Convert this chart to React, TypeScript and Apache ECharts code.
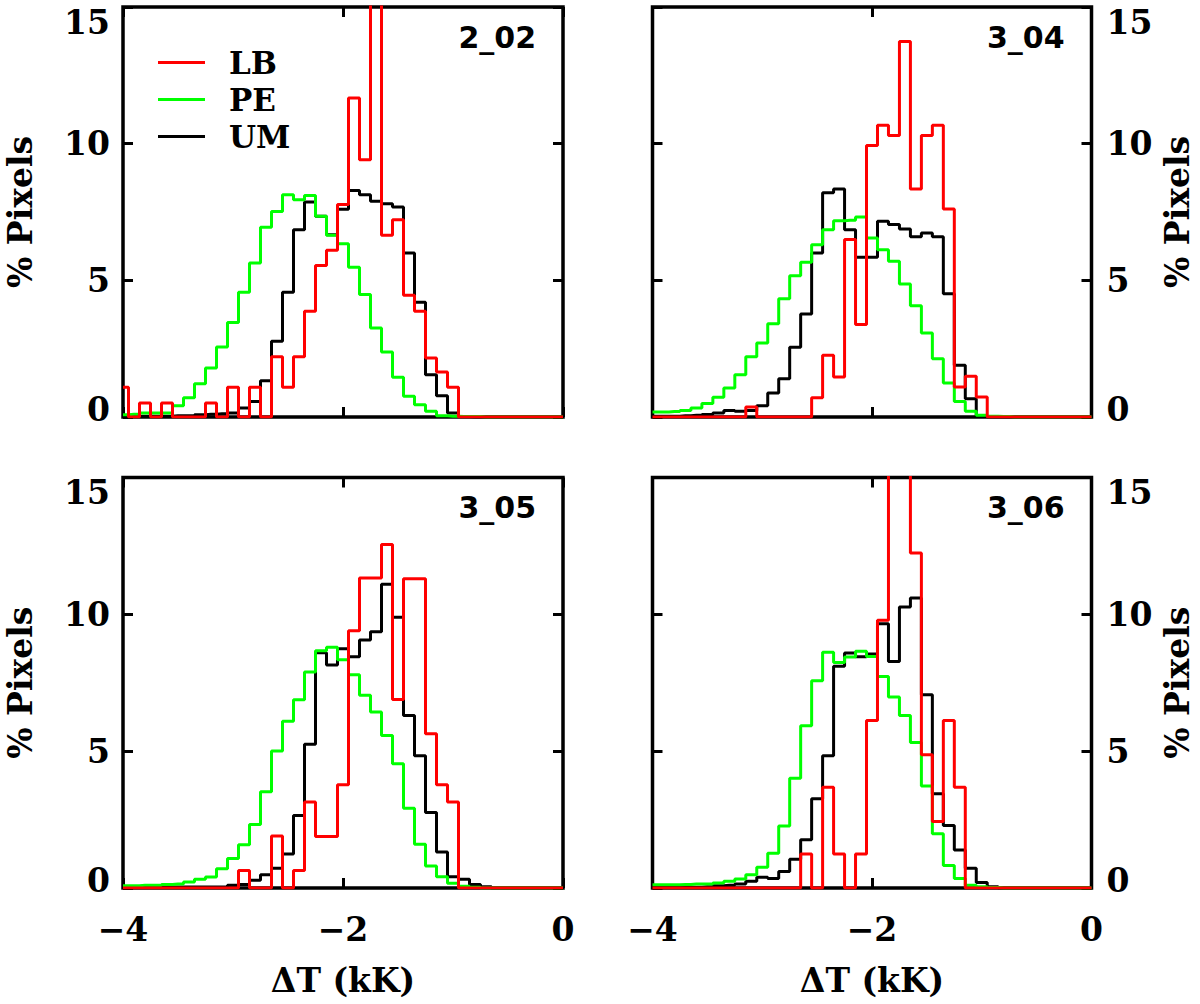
import { useEffect, useRef } from "react";
import * as echarts from "echarts";

// bin centres (kK), 0.1 kK wide bins
const BIN_CENTERS = [
  -4.0, -3.9, -3.8, -3.7, -3.6, -3.5, -3.4, -3.3, -3.2, -3.1, -3.0, -2.9, -2.8, -2.7,
  -2.6, -2.5, -2.4, -2.3, -2.2, -2.1, -2.0, -1.9, -1.8, -1.7, -1.6, -1.5, -1.4, -1.3,
  -1.2, -1.1, -1.0, -0.9, -0.8, -0.7, -0.6, -0.5, -0.4, -0.3, -0.2, -0.1, 0.0,
];

const X_TICKS = [-4, -2, 0];
const Y_TICKS = [0, 5, 10, 15];
const SERIES_NAMES = ["LB", "PE", "UM"];
const PANEL_LABELS = ["2_02", "3_04", "3_05", "3_06"];

// % pixels per bin
const LB_2_02 = [
  1.09, 0, 0.51, 0, 0.51, 0, 0, 0, 0.51, 0, 1.09, 0, 1.09, 0, 2.2, 1.09, 2.2, 3.87, 5.54,
  6.1, 7.77, 11.67, 9.41, 17, 6.65, 7.22, 4.45, 3.87, 2.16, 1.65, 1.09, 0, 0, 0, 0, 0, 0,
  0, 0, 0, 0,
];
const PE_2_02 = [
  0.08, 0.1, 0.15, 0.15, 0.15, 0.41, 0.7, 1.22, 1.79, 2.56, 3.46, 4.56, 5.63, 6.94, 7.52,
  8.13, 7.95, 8.1, 7.34, 6.65, 6.34, 5.48, 4.48, 3.26, 2.38, 1.45, 0.76, 0.45, 0.21, 0.05,
  0.03, 0.02, 0.02, 0, 0, 0, 0, 0, 0, 0, 0,
];
const UM_2_02 = [
  0.03, 0.03, 0.03, 0.03, 0.03, 0.05, 0.05, 0.08, 0.1, 0.12, 0.15, 0.33, 0.57, 1.33, 2.77,
  4.56, 6.85, 7.87, 7.34, 6.67, 7.6, 8.29, 8.13, 7.89, 7.8, 7.68, 6.0, 4.2, 1.55, 0.78,
  0.15, 0.02, 0, 0, 0, 0, 0, 0, 0, 0, 0,
];

const LB_3_04 = [
  0, 0, 0, 0, 0, 0, 0, 0, 0, 0.37, 0, 0, 0, 0, 0, 0.7, 2.26, 1.46, 6.49, 3.38, 9.93, 10.67,
  10.3, 13.74, 8.34, 10.3, 10.67, 7.61, 1.1, 1.49, 0.73, 0, 0, 0, 0, 0, 0, 0, 0, 0, 0,
];
const PE_3_04 = [
  0.18, 0.18, 0.2, 0.24, 0.33, 0.49, 0.72, 1.06, 1.55, 2.2, 2.71, 3.41, 4.33, 5.17, 5.66,
  6.3, 6.85, 7.18, 7.2, 7.32, 6.55, 6.12, 5.7, 4.87, 4.07, 3.07, 2.13, 1.24, 0.57, 0.21,
  0.06, 0.03, 0.02, 0, 0, 0, 0, 0, 0, 0, 0,
];
const UM_3_04 = [
  0.03, 0.03, 0.03, 0.05, 0.06, 0.09, 0.15, 0.24, 0.21, 0.24, 0.41, 0.88, 1.4, 2.55, 3.77,
  6.0, 8.2, 8.34, 6.85, 5.84, 5.84, 7.16, 7.04, 6.88, 6.59, 6.73, 6.59, 4.51, 1.89, 0.67,
  0.05, 0, 0, 0, 0, 0, 0, 0, 0, 0, 0,
];

const LB_3_05 = [
  0, 0, 0, 0, 0, 0, 0, 0, 0, 0, 0, 0.64, 0, 0, 1.9, 0, 0.64, 3.14, 1.88, 1.88, 3.77, 9.4,
  11.33, 11.33, 12.55, 6.89, 11.3, 11.3, 5.64, 3.77, 3.14, 0, 0, 0, 0, 0, 0, 0, 0, 0, 0,
];
const PE_3_05 = [
  0.08, 0.08, 0.1, 0.1, 0.13, 0.15, 0.22, 0.32, 0.4, 0.7, 1.08, 1.58, 2.32, 3.52, 5.01,
  6.09, 6.88, 7.89, 8.67, 8.8, 8.34, 7.79, 7.04, 6.43, 5.57, 4.54, 2.91, 1.6, 0.8, 0.41,
  0.17, 0.06, 0.03, 0, 0, 0, 0, 0, 0, 0, 0,
];
const UM_3_05 = [
  0.04, 0.04, 0.04, 0.04, 0.04, 0.04, 0.04, 0.04, 0.04, 0.04, 0.1, 0.13, 0.28, 0.48, 0.72,
  1.24, 2.65, 5.25, 8.6, 8.15, 8.74, 8.45, 9.06, 9.36, 11.1, 9.89, 6.3, 4.83, 2.76, 1.32,
  0.41, 0.32, 0.13, 0.05, 0, 0, 0, 0, 0, 0, 0,
];

const LB_3_06 = [
  0, 0, 0, 0, 0, 0, 0, 0, 0, 0, 0, 0, 0, 0, 1.24, 0, 3.68, 1.24, 0, 1.24, 6.12, 9.78, 17,
  16, 12.24, 4.87, 2.43, 6.12, 3.68, 0, 0, 0, 0, 0, 0, 0, 0, 0, 0, 0, 0,
];
const PE_3_06 = [
  0.12, 0.12, 0.12, 0.13, 0.15, 0.15, 0.18, 0.25, 0.33, 0.48, 0.76, 1.27, 2.27, 4.01, 5.93,
  7.57, 8.61, 8.24, 8.44, 8.65, 8.46, 7.73, 6.98, 6.3, 5.32, 3.73, 1.98, 0.82, 0.35, 0.1,
  0.05, 0.02, 0, 0, 0, 0, 0, 0, 0, 0, 0,
];
const UM_3_06 = [
  0.03, 0.03, 0.03, 0.03, 0.03, 0.05, 0.08, 0.1, 0.15, 0.25, 0.39, 0.35, 0.6, 1.05, 1.76,
  3.26, 4.83, 8.1, 8.59, 8.45, 8.55, 9.66, 8.28, 10.27, 10.6, 7.06, 3.44, 2.28, 1.39, 0.72,
  0.2, 0.05, 0, 0, 0, 0, 0, 0, 0, 0, 0,
];

const PANEL_DATA = [
  [LB_2_02, PE_2_02, UM_2_02],
  [LB_3_04, PE_3_04, UM_3_04],
  [LB_3_05, PE_3_05, UM_3_05],
  [LB_3_06, PE_3_06, UM_3_06],
];

const COLORS = ["#ff0000", "#00ff00", "#000000"];
const SERIF = "'DejaVu Serif', serif";
const SANS = "'DejaVu Sans', sans-serif";

// plot boxes in px
const GRIDS = [
  { left: 123, top: 7, width: 440, height: 410 },
  { left: 652.5, top: 7, width: 439, height: 410 },
  { left: 123, top: 477.5, width: 440, height: 410.5 },
  { left: 652.5, top: 477.5, width: 439, height: 410.5 },
];

const labelFont = {
  color: "#000",
  fontFamily: SERIF,
  fontWeight: "bold" as const,
  fontSize: 33,
};

const tick = {
  show: true,
  inside: true,
  length: 10,
  lineStyle: { color: "#000", width: 3 },
};

const fmtX = (v: number) => (v < 0 ? "\u2212" + Math.abs(v) : String(v));
const fmtY = (v: number) =>
  v === Y_TICKS[0] ? `{lo|${v}}` : v === Y_TICKS[Y_TICKS.length - 1] ? `{hi|${v}}` : `{n|${v}}`;

function buildOption() {
  const xAxis: any[] = [];
  const yAxis: any[] = [];
  const series: any[] = [];

  GRIDS.forEach((_, gi) => {
    const bottomRow = gi >= 2;
    const leftCol = gi % 2 === 0;
    ["bottom", "top"].forEach((pos) => {
      const main = pos === "bottom" && bottomRow;
      xAxis.push({
        gridIndex: gi,
        type: "value",
        position: pos,
        min: X_TICKS[0],
        max: X_TICKS[X_TICKS.length - 1],
        interval: 2,
        axisLine: { show: false, onZero: false },
        axisTick: tick,
        splitLine: { show: false },
        axisLabel: {
          show: main,
          ...labelFont,
          margin: 25,
          showMinLabel: true,
          showMaxLabel: true,
          formatter: fmtX,
        },
        name: main ? "\u0394T (kK)" : "",
        nameLocation: "middle",
        nameGap: 76,
        nameTextStyle: labelFont,
      });
    });
    ["left", "right"].forEach((pos) => {
      const main = (pos === "left") === leftCol;
      const rich = {
        n: { ...labelFont },
        lo: { ...labelFont, padding: [0, 0, 16, 0] },
        hi: { ...labelFont, padding: [30, 0, 0, 0] },
      };
      yAxis.push({
        gridIndex: gi,
        type: "value",
        position: pos,
        min: Y_TICKS[0],
        max: Y_TICKS[Y_TICKS.length - 1],
        interval: 5,
        axisLine: { show: false, onZero: false },
        axisTick: tick,
        splitLine: { show: false },
        axisLabel: {
          show: main,
          ...labelFont,
          margin: pos === "left" ? 13 : 15,
          showMinLabel: true,
          showMaxLabel: true,
          formatter: fmtY,
          rich,
        },
        name: main ? "% Pixels" : "",
        nameLocation: "middle",
        nameRotate: 90,
        nameGap: pos === "left" ? 86 : 69,
        nameTextStyle: labelFont,
      });
    });

    // black first, then green, red on top
    [2, 1, 0].forEach((si) => {
      series.push({
        name: SERIES_NAMES[si],
        type: "line",
        step: "middle",
        xAxisIndex: gi * 2,
        yAxisIndex: gi * 2,
        showSymbol: false,
        symbol: "none",
        clip: true,
        itemStyle: { color: COLORS[si] },
        lineStyle: { color: COLORS[si], width: 3 },
        data: BIN_CENTERS.map((x, i) => [x, PANEL_DATA[gi][si][i]]),
      });
    });
  });

  const title = PANEL_LABELS.map((text, gi) => {
    const g = GRIDS[gi];
    return {
      text,
      right: 1200 - (g.left + g.width) + 27,
      top: g.top + 15,
      padding: 0,
      textStyle: { fontFamily: SANS, fontWeight: "bold", fontSize: 30, color: "#000" },
    };
  });

  return {
    animation: false,
    backgroundColor: "#fff",
    title,
    grid: GRIDS.map((g) => ({
      ...g,
      show: true,
      borderColor: "#000",
      borderWidth: 3.5,
      backgroundColor: "transparent",
      containLabel: false,
    })),
    legend: {
      data: SERIES_NAMES,
      orient: "vertical",
      left: 158,
      top: 44,
      padding: 0,
      itemGap: 0,
      itemWidth: 47,
      itemHeight: 3,
      icon: "rect",
      selectedMode: false,
      textStyle: { ...labelFont, fontSize: 31, lineHeight: 37, padding: [0, 0, 0, 19] },
    },
    xAxis,
    yAxis,
    series,
  };
}

export default function App() {
  const ref = useRef<HTMLDivElement>(null);

  useEffect(() => {
    document.body.style.margin = "0";
    if (!ref.current) return;
    const chart = echarts.init(ref.current, undefined, { renderer: "svg" });
    chart.setOption(buildOption() as any);
    return () => chart.dispose();
  }, []);

  return <div ref={ref} style={{ width: 1200, height: 1004 }} />;
}
